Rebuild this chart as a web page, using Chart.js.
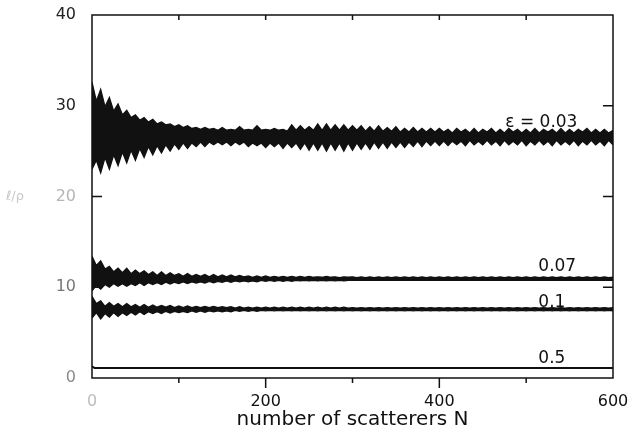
<!DOCTYPE html>
<html>
<head>
<meta charset="utf-8">
<script src="https://cdn.jsdelivr.net/npm/chart.js@4.4.1/dist/chart.umd.min.js"></script>
<style>
  html, body { margin: 0; padding: 0; background: #fff; }
  #wrap { width: 629px; height: 438px; }
</style>
</head>
<body>
<div id="wrap"><canvas id="chart" width="629" height="438"></canvas></div>
<script>
// number of scatterers (shared x grid for the oscillating curves)
const N = [0,5,10,15,20,25,30,35,40,45,50,55,60,65,70,75,80,85,90,95,
  100,105,110,115,120,125,130,135,140,145,150,155,160,165,170,175,180,185,190,195,
  200,205,210,215,220,225,230,235,240,245,250,255,260,265,270,275,280,285,290,295,
  300,305,310,315,320,325,330,335,340,345,350,355,360,365,370,375,380,385,390,395,
  400,405,410,415,420,425,430,435,440,445,450,455,460,465,470,475,480,485,490,495,
  500,505,510,515,520,525,530,535,540,545,550,555,560,565,570,575,580,585,590,595,600];

// eps = 0.03 : upper / lower edge of the oscillation
const up003 = [32.6,30.5,31.8,29.9,30.9,29.4,30.2,29.0,29.5,28.7,
  29.0,28.4,28.7,28.2,28.5,28.0,28.2,27.9,28.0,27.7,
  27.9,27.6,27.8,27.5,27.6,27.4,27.6,27.4,27.5,27.3,
  27.6,27.3,27.4,27.3,27.7,27.3,27.4,27.3,27.8,27.3,
  27.4,27.3,27.5,27.3,27.4,27.2,27.9,27.3,27.8,27.3,
  27.7,27.3,28.0,27.3,28.0,27.3,27.9,27.3,27.9,27.3,
  27.8,27.3,27.8,27.2,27.7,27.2,27.8,27.2,27.6,27.2,
  27.7,27.1,27.5,27.1,27.6,27.1,27.5,27.1,27.5,27.1,
  27.5,27.1,27.4,27.0,27.5,27.1,27.4,27.0,27.5,27.0,
  27.4,27.1,27.5,27.0,27.4,27.0,27.5,27.1,27.4,27.0,
  27.4,27.0,27.5,27.0,27.4,27.1,27.4,27.0,27.5,27.0,
  27.4,27.0,27.4,27.1,27.5,27.0,27.4,27.0,27.4,27.0,27.3];
const lo003 = [23.0,24.0,22.6,24.3,23.0,24.6,23.4,24.9,23.7,25.1,
  24.0,25.3,24.3,25.5,24.6,25.6,24.8,25.7,25.0,25.8,
  25.2,25.9,25.3,25.9,25.5,26.0,25.5,26.0,25.7,26.0,
  25.7,26.0,25.6,26.0,25.7,26.0,25.5,25.9,25.6,25.9,
  25.4,25.9,25.5,25.9,25.3,25.9,25.4,25.9,25.2,25.9,
  25.1,25.9,25.1,25.9,25.0,25.9,25.1,25.9,25.0,25.9,
  25.1,25.9,25.2,25.9,25.2,26.0,25.3,26.0,25.3,26.0,
  25.4,26.0,25.4,26.0,25.5,26.1,25.5,26.1,25.6,26.1,
  25.6,26.1,25.6,26.1,25.7,26.1,25.6,26.2,25.7,26.1,
  25.7,26.2,25.7,26.1,25.6,26.2,25.7,26.1,25.7,26.2,
  25.6,26.1,25.7,26.2,25.7,26.1,25.6,26.2,25.7,26.1,
  25.7,26.2,25.6,26.1,25.7,26.2,25.7,26.1,25.6,26.2,25.7];

// eps = 0.07
const up007 = [13.4,12.4,12.9,12.0,12.3,11.7,12.1,11.6,12.1,11.5,
  11.9,11.5,11.8,11.4,11.7,11.3,11.7,11.3,11.6,11.3,
  11.5,11.2,11.5,11.2,11.4,11.2,11.4,11.15,11.4,11.15,
  11.35,11.15,11.35,11.15,11.3,11.15,11.25,11.1,11.25,11.1,
  11.25,11.1,11.2,11.1,11.2,11.1,11.2,11.1,11.2,11.1,
  11.2,11.1,11.15,11.1,11.2,11.1,11.15,11.05,11.15,11.1,
  11.15,11.05,11.15,11.05,11.15,11.05,11.15,11.05,11.15,11.05,
  11.15,11.05,11.15,11.05,11.15,11.05,11.15,11.05,11.15,11.05,
  11.15,11.05,11.15,11.05,11.15,11.05,11.15,11.05,11.15,11.05,
  11.15,11.05,11.15,11.05,11.15,11.05,11.15,11.05,11.15,11.05,
  11.15,11.05,11.15,11.05,11.15,11.05,11.15,11.05,11.15,11.05,
  11.15,11.05,11.15,11.05,11.15,11.05,11.15,11.05,11.15,11.05,11.1];
const lo007 = [9.6,10.2,9.8,10.3,10.0,10.4,10.1,10.4,10.1,10.4,
  10.2,10.5,10.2,10.5,10.3,10.5,10.3,10.55,10.35,10.55,
  10.4,10.6,10.4,10.6,10.45,10.6,10.45,10.65,10.5,10.65,
  10.55,10.7,10.55,10.7,10.6,10.7,10.6,10.7,10.6,10.75,
  10.65,10.75,10.65,10.75,10.65,10.75,10.65,10.75,10.7,10.75,
  10.7,10.75,10.7,10.75,10.7,10.75,10.7,10.75,10.7,10.75,
  10.75,10.8,10.75,10.8,10.75,10.8,10.75,10.8,10.75,10.8,
  10.75,10.8,10.75,10.8,10.75,10.8,10.75,10.8,10.75,10.8,
  10.75,10.8,10.75,10.8,10.75,10.8,10.75,10.8,10.75,10.8,
  10.75,10.8,10.75,10.8,10.75,10.8,10.75,10.8,10.75,10.8,
  10.75,10.8,10.75,10.8,10.75,10.8,10.75,10.8,10.75,10.8,
  10.75,10.8,10.75,10.8,10.75,10.8,10.75,10.8,10.75,10.8,10.75];

// eps = 0.1
const up01 = [9.0,8.2,8.5,7.9,8.3,7.9,8.2,7.85,8.2,7.85,
  8.1,7.8,8.1,7.8,8.05,7.8,8.0,7.8,8.0,7.75,
  7.95,7.75,7.95,7.75,7.9,7.75,7.9,7.75,7.9,7.75,
  7.85,7.75,7.85,7.7,7.85,7.7,7.8,7.7,7.8,7.7,
  7.8,7.7,7.8,7.7,7.8,7.7,7.8,7.7,7.8,7.7,
  7.8,7.7,7.8,7.7,7.8,7.7,7.8,7.7,7.8,7.7,
  7.75,7.7,7.75,7.7,7.75,7.7,7.75,7.7,7.75,7.7,
  7.75,7.7,7.75,7.7,7.75,7.7,7.75,7.7,7.75,7.7,
  7.75,7.7,7.75,7.7,7.75,7.7,7.75,7.7,7.75,7.7,
  7.75,7.7,7.75,7.7,7.75,7.7,7.75,7.7,7.75,7.7,
  7.75,7.7,7.75,7.7,7.75,7.7,7.75,7.7,7.75,7.7,
  7.75,7.7,7.75,7.7,7.75,7.7,7.75,7.7,7.75,7.7,7.75];
const lo01 = [6.6,7.2,6.5,7.1,6.7,7.2,6.8,7.2,6.9,7.25,
  6.95,7.3,7.0,7.3,7.1,7.3,7.1,7.35,7.15,7.35,
  7.2,7.35,7.2,7.4,7.25,7.4,7.25,7.4,7.3,7.4,
  7.3,7.4,7.3,7.45,7.35,7.45,7.35,7.45,7.35,7.45,
  7.4,7.45,7.4,7.45,7.4,7.45,7.4,7.45,7.4,7.45,
  7.4,7.45,7.4,7.45,7.4,7.45,7.4,7.45,7.4,7.45,
  7.4,7.45,7.4,7.45,7.4,7.45,7.4,7.45,7.4,7.45,
  7.4,7.45,7.4,7.45,7.4,7.45,7.4,7.45,7.4,7.45,
  7.4,7.45,7.4,7.45,7.4,7.45,7.4,7.45,7.4,7.45,
  7.4,7.45,7.4,7.45,7.4,7.45,7.4,7.45,7.4,7.45,
  7.4,7.45,7.4,7.45,7.4,7.45,7.4,7.45,7.4,7.45,
  7.4,7.45,7.4,7.45,7.4,7.45,7.4,7.45,7.4,7.45,7.4];

// eps = 0.5 (flat)
const n05 = [0, 3, 600];
const v05 = [1.3, 1.1, 1.1];

const xTicks = [0, 100, 200, 300, 400, 500, 600];
const xLabeled = [0, 200, 400, 600];
const yTicks = [0, 10, 20, 30, 40];

const curveLabels = [
  { text: 'ε = 0.03', n: 476, v: 27.7 },
  { text: '0.07', n: 514, v: 11.75 },
  { text: '0.1', n: 514, v: 7.85 },
  { text: '0.5', n: 514, v: 1.7 }
];

const pts = (xs, ys) => xs.map((x, i) => ({ x: x, y: ys[i] }));
const INK = '#111';

function band(upper, lower) {
  return [
    { data: pts(N, upper), borderColor: INK, borderWidth: 1.3, pointRadius: 0, fill: false },
    { data: pts(N, lower), borderColor: INK, borderWidth: 1.3, pointRadius: 0,
      fill: '-1', backgroundColor: INK }
  ];
}

const frame = {
  id: 'frame',
  afterDatasetsDraw(chart) {
    const { ctx, chartArea: a, scales: { x, y } } = chart;
    ctx.save();
    ctx.strokeStyle = INK;
    ctx.lineWidth = 1.5;
    ctx.strokeRect(a.left, a.top, a.right - a.left, a.bottom - a.top);
    ctx.beginPath();
    xTicks.forEach(v => {
      if (v <= 0 || v >= 600) return;
      const px = x.getPixelForValue(v);
      ctx.moveTo(px, a.top);
      ctx.lineTo(px, a.top + 5);
      ctx.moveTo(px, a.bottom);
      ctx.lineTo(px, a.bottom + (xLabeled.includes(v) ? 10 : 5));
    });
    yTicks.forEach(v => {
      if (v <= 0 || v >= 40) return;
      const py = y.getPixelForValue(v);
      ctx.moveTo(a.left, py);
      ctx.lineTo(a.left + 10, py);
      ctx.moveTo(a.right, py);
      ctx.lineTo(a.right - 10, py);
    });
    ctx.stroke();

    ctx.fillStyle = INK;
    ctx.font = '17px "DejaVu Sans"';
    ctx.textBaseline = 'alphabetic';
    curveLabels.forEach(l => {
      ctx.fillText(l.text, x.getPixelForValue(l.n), y.getPixelForValue(l.v));
    });

    // faint axis symbol on the left (barely legible in the scan)
    ctx.fillStyle = '#c8c8c8';
    ctx.font = '13px "DejaVu Sans"';
    ctx.textBaseline = 'middle';
    ctx.fillText('ℓ/ρ', 6, y.getPixelForValue(20));
    ctx.restore();
  }
};

const yColors = { 0: '#8a8a8a', 10: '#777', 20: '#b5b5b5', 30: '#222', 40: '#222' };
const xColors = { 0: '#bdbdbd', 200: '#111', 400: '#111', 600: '#111' };

new Chart(document.getElementById('chart'), {
  type: 'line',
  data: {
    datasets: [
      ...band(up003, lo003),
      ...band(up007, lo007),
      ...band(up01, lo01),
      { data: pts(n05, v05), borderColor: INK, borderWidth: 2, pointRadius: 0, fill: false }
    ]
  },
  options: {
    responsive: false,
    animation: false,
    layout: { padding: { top: 15, right: 16, left: 0, bottom: 0 } },
    plugins: { legend: { display: false }, tooltip: { enabled: false } },
    elements: { line: { tension: 0 } },
    scales: {
      x: {
        type: 'linear', min: 0, max: 600,
        afterBuildTicks: s => { s.ticks = xTicks.map(v => ({ value: v })); },
        afterFit: s => { s.height = 60; s.paddingLeft = 0; s.paddingRight = 0; },
        grid: { display: false, drawTicks: false, tickLength: 0 },
        border: { display: false },
        ticks: {
          padding: 14, autoSkip: false, maxRotation: 0,
          font: { family: 'DejaVu Sans', size: 16 },
          color: c => xColors[c.tick.value] || '#111',
          callback: v => xLabeled.includes(v) ? String(v) : ''
        },
        title: {
          display: true, text: 'number of scatterers N', color: '#111',
          font: { family: 'DejaVu Sans', size: 20 },
          padding: { top: 0, bottom: 6 }
        }
      },
      y: {
        type: 'linear', min: 0, max: 40,
        afterBuildTicks: s => { s.ticks = yTicks.map(v => ({ value: v })); },
        afterFit: s => { s.width = 92; s.paddingTop = 0; s.paddingBottom = 0; },
        grid: { display: false, drawTicks: false, tickLength: 0 },
        border: { display: false },
        ticks: {
          padding: 16,
          font: { family: 'DejaVu Sans', size: 16 },
          color: c => yColors[c.tick.value] || '#111'
        }
      }
    }
  },
  plugins: [frame]
});
</script>
</body>
</html>
